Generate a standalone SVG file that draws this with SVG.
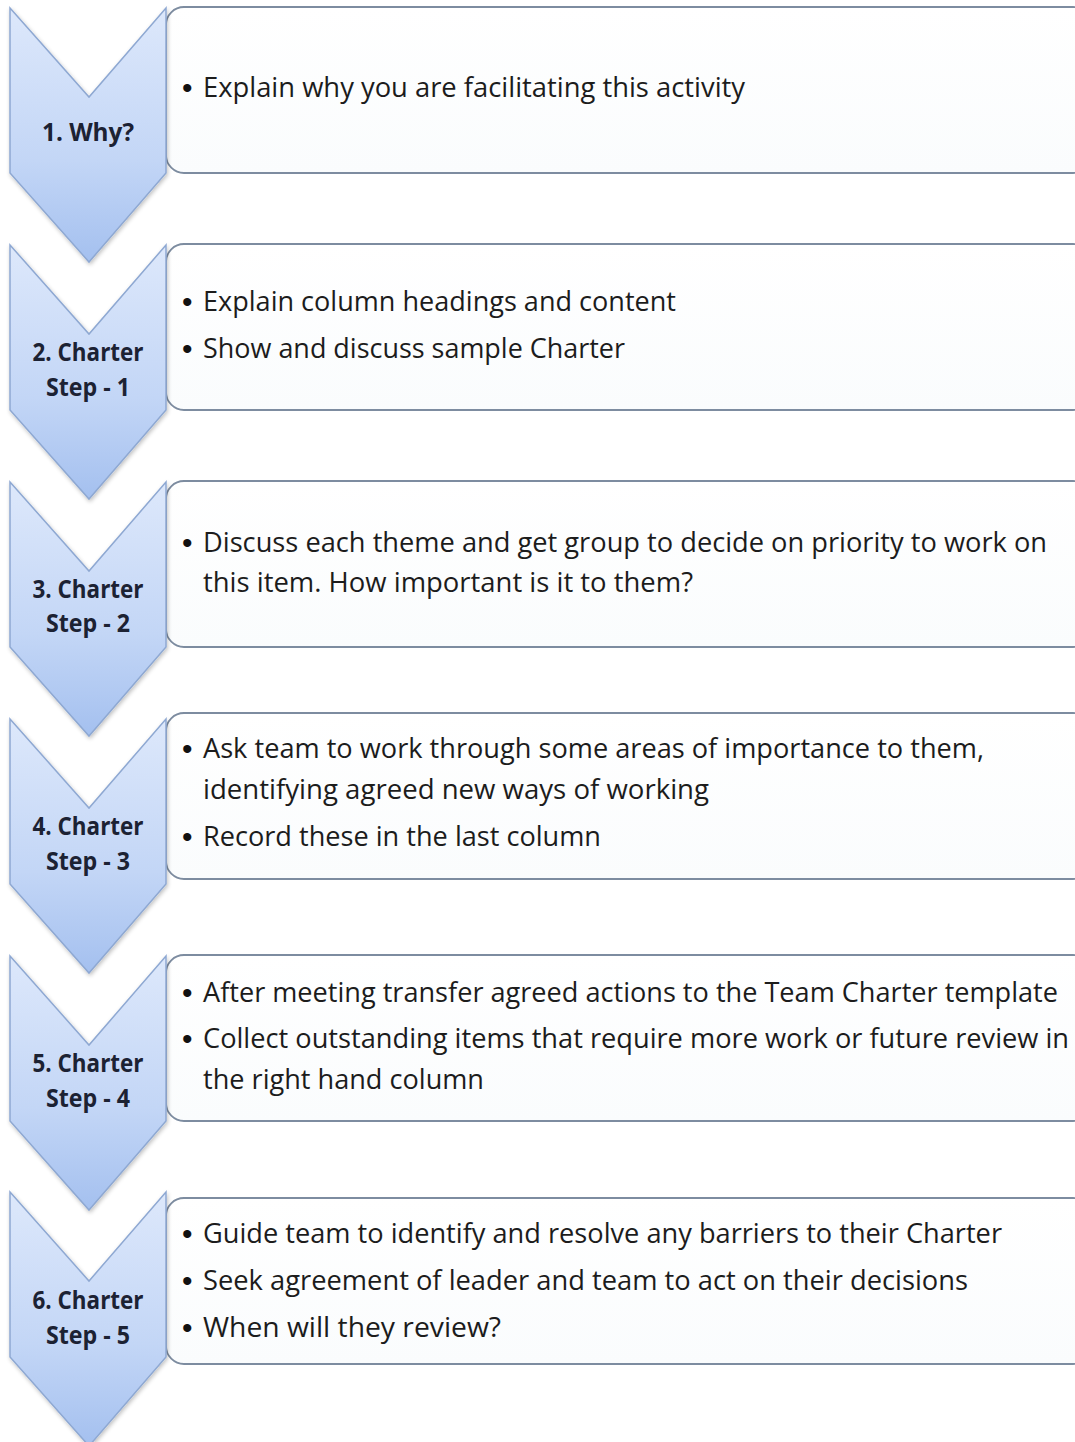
<svg xmlns="http://www.w3.org/2000/svg" width="1075" height="1442" viewBox="0 0 1075 1442">
  <defs>
    <linearGradient id="chev" x1="0" y1="0" x2="0" y2="1">
      <stop offset="0" stop-color="#dde8fb"/>
      <stop offset="0.6" stop-color="#c3d6f6"/>
      <stop offset="1" stop-color="#a4c0ef"/>
    </linearGradient>
    <linearGradient id="boxfill" x1="0" y1="0" x2="0" y2="1">
      <stop offset="0" stop-color="#ffffff"/>
      <stop offset="1" stop-color="#fafcfd"/>
    </linearGradient>
    <filter id="soft" x="-10%" y="-10%" width="130%" height="130%">
      <feGaussianBlur in="SourceAlpha" stdDeviation="2"/>
      <feOffset dx="1" dy="2" result="b"/>
      <feComponentTransfer><feFuncA type="linear" slope="0.25"/></feComponentTransfer>
      <feMerge><feMergeNode/><feMergeNode in="SourceGraphic"/></feMerge>
    </filter>
    <path id="chevron" d="M10,0 L89,89 L166,0 L166,165 L89,254 L10,165 Z"/>
  </defs>
  <style>
    .chev { fill: url(#chev); stroke: #8ea8d2; stroke-width: 1.5; }
    .box { fill: url(#boxfill); stroke: #7d8ca0; stroke-width: 1.8; }
    .lbl { font-family: "Open Sans", "Liberation Sans", sans-serif; font-weight: bold; font-size: 25px; fill: #1c2233; text-anchor: middle; }
    .txt { font-family: "Open Sans", "Liberation Sans", sans-serif; font-size: 27px; fill: #1c1c1c; }
    .bul { font-family: "Liberation Sans", sans-serif; font-size: 30px; fill: #111111; }
  </style>

  <!-- connectors: the chevrons chain into one another; no separate lines -->
  <g id="connectors"/>

  <!-- step 1 -->
  <g id="step1" transform="translate(0,8)">
    <rect class="box" x="166" y="-1" width="925" height="166" rx="18"/>
    <use href="#chevron" class="chev" filter="url(#soft)"/>
    <text class="lbl" x="88" y="133" textLength="92" lengthAdjust="spacingAndGlyphs">1. Why?</text>
    <text class="bul" x="182" y="90">•</text>
    <text class="txt" x="203" y="89" textLength="542" lengthAdjust="spacingAndGlyphs">Explain why you are facilitating this activity</text>
  </g>

  <!-- step 2 -->
  <g id="step2" transform="translate(0,245)">
    <rect class="box" x="166" y="-1" width="925" height="166" rx="18"/>
    <use href="#chevron" class="chev" filter="url(#soft)"/>
    <text class="lbl" x="88" y="116" textLength="111" lengthAdjust="spacingAndGlyphs">2. Charter</text>
    <text class="lbl" x="88" y="151" textLength="84" lengthAdjust="spacingAndGlyphs">Step - 1</text>
    <text class="bul" x="182" y="67">•</text>
    <text class="txt" x="203" y="66" textLength="473" lengthAdjust="spacingAndGlyphs">Explain column headings and content</text>
    <text class="bul" x="182" y="114">•</text>
    <text class="txt" x="203" y="113" textLength="422" lengthAdjust="spacingAndGlyphs">Show and discuss sample Charter</text>
  </g>

  <!-- step 3 -->
  <g id="step3" transform="translate(0,482)">
    <rect class="box" x="166" y="-1" width="925" height="166" rx="18"/>
    <use href="#chevron" class="chev" filter="url(#soft)"/>
    <text class="lbl" x="88" y="116" textLength="111" lengthAdjust="spacingAndGlyphs">3. Charter</text>
    <text class="lbl" x="88" y="150" textLength="84" lengthAdjust="spacingAndGlyphs">Step - 2</text>
    <text class="bul" x="182" y="71">•</text>
    <text class="txt" x="203" y="70" textLength="844" lengthAdjust="spacingAndGlyphs">Discuss each theme and get group to decide on priority to work on</text>
    <text class="txt" x="203" y="110" textLength="490" lengthAdjust="spacingAndGlyphs">this item. How important is it to them?</text>
  </g>

  <!-- step 4 -->
  <g id="step4" transform="translate(0,719)">
    <rect class="box" x="166" y="-6" width="925" height="166" rx="18"/>
    <use href="#chevron" class="chev" filter="url(#soft)"/>
    <text class="lbl" x="88" y="116" textLength="111" lengthAdjust="spacingAndGlyphs">4. Charter</text>
    <text class="lbl" x="88" y="151" textLength="84" lengthAdjust="spacingAndGlyphs">Step - 3</text>
    <text class="bul" x="182" y="40">•</text>
    <text class="txt" x="203" y="39" textLength="781" lengthAdjust="spacingAndGlyphs">Ask team to work through some areas of importance to them,</text>
    <text class="txt" x="203" y="80" textLength="506" lengthAdjust="spacingAndGlyphs">identifying agreed new ways of working</text>
    <text class="bul" x="182" y="128">•</text>
    <text class="txt" x="203" y="127" textLength="398" lengthAdjust="spacingAndGlyphs">Record these in the last column</text>
  </g>

  <!-- step 5 -->
  <g id="step5" transform="translate(0,956)">
    <rect class="box" x="166" y="-1" width="925" height="166" rx="18"/>
    <use href="#chevron" class="chev" filter="url(#soft)"/>
    <text class="lbl" x="88" y="116" textLength="111" lengthAdjust="spacingAndGlyphs">5. Charter</text>
    <text class="lbl" x="88" y="151" textLength="84" lengthAdjust="spacingAndGlyphs">Step - 4</text>
    <text class="bul" x="182" y="47">•</text>
    <text class="txt" x="203" y="46" textLength="855" lengthAdjust="spacingAndGlyphs">After meeting transfer agreed actions to the Team Charter template</text>
    <text class="bul" x="182" y="93">•</text>
    <text class="txt" x="203" y="92" textLength="866" lengthAdjust="spacingAndGlyphs">Collect outstanding items that require more work or future review in</text>
    <text class="txt" x="203" y="133" textLength="281" lengthAdjust="spacingAndGlyphs">the right hand column</text>
  </g>

  <!-- step 6 -->
  <g id="step6" transform="translate(0,1192)">
    <rect class="box" x="166" y="6" width="925" height="166" rx="18"/>
    <use href="#chevron" class="chev" filter="url(#soft)"/>
    <text class="lbl" x="88" y="117" textLength="111" lengthAdjust="spacingAndGlyphs">6. Charter</text>
    <text class="lbl" x="88" y="152" textLength="84" lengthAdjust="spacingAndGlyphs">Step - 5</text>
    <text class="bul" x="182" y="52">•</text>
    <text class="txt" x="203" y="51" textLength="799" lengthAdjust="spacingAndGlyphs">Guide team to identify and resolve any barriers to their Charter</text>
    <text class="bul" x="182" y="99">•</text>
    <text class="txt" x="203" y="98" textLength="765" lengthAdjust="spacingAndGlyphs">Seek agreement of leader and team to act on their decisions</text>
    <text class="bul" x="182" y="146">•</text>
    <text class="txt" x="203" y="145" textLength="298" lengthAdjust="spacingAndGlyphs">When will they review?</text>
  </g>
</svg>
